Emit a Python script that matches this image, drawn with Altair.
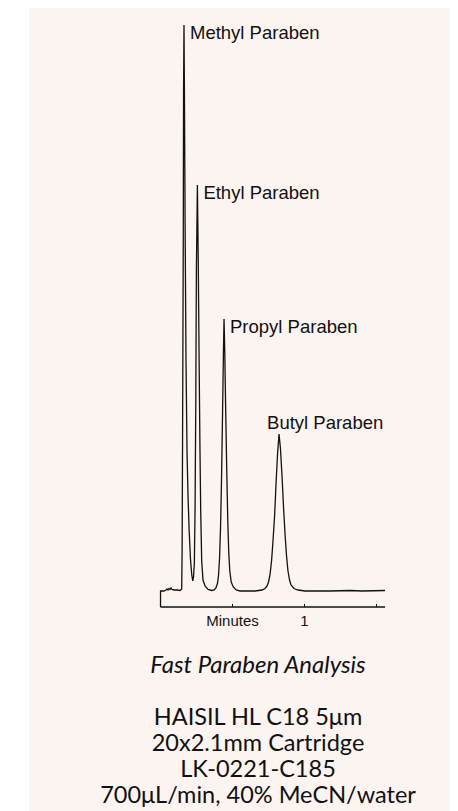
import altair as alt
import pandas as pd

# ---- chromatogram trace (time in minutes, detector signal in arbitrary units) ----
times = [0.000, 0.000, 0.003, 0.024, 0.038, 0.045, 0.052, 0.059, 0.066, 0.073, 0.080, 0.094, 0.115, 0.135, 0.147,
         0.150, 0.153, 0.158, 0.160, 0.163, 0.166, 0.171, 0.177, 0.184, 0.191, 0.199, 0.208, 0.217, 0.224,
         0.229, 0.235, 0.240, 0.245, 0.249, 0.256, 0.262, 0.268, 0.274, 0.279, 0.286, 0.295, 0.309, 0.330, 0.356,
         0.372, 0.385, 0.396, 0.403, 0.410, 0.417, 0.424, 0.431, 0.437, 0.441, 0.446, 0.452, 0.460, 0.467, 0.474,
         0.481, 0.491, 0.505, 0.526, 0.552, 0.656, 0.705,
         0.726, 0.740, 0.750, 0.760, 0.771, 0.781, 0.792, 0.802, 0.813, 0.823, 0.833, 0.844, 0.854, 0.865, 0.875,
         0.885, 0.896, 0.906, 0.927, 0.955, 1.003, 1.177, 1.316, 1.400, 1.559]
signal = [-16, 0, 0, 0, 1, 2, 1, 2.5, 1.5, 3, 1.5, 1, 1, 0.5, 2,
          40, 150, 350, 500, 566, 500, 360, 230, 140, 95, 60, 32, 16, 10,
          14, 28, 85, 190, 320, 406, 330, 230, 140, 80, 30, 11, 5, 1.5, 0.5,
          1, 3, 8, 16, 33, 65, 115, 180, 240, 272, 240, 185, 120, 70, 38,
          20, 9, 4, 1, 0, 0, 1,
          2.5, 5, 9, 16, 30, 50, 75, 107, 138, 157, 142, 114, 84, 56, 35,
          20, 11, 6, 2.5, 1, 0, 0, 0.5, 0, 0.5]

peak_names = ["Methyl Paraben", "Ethyl Paraben", "Propyl Paraben"]
peak_times = [0.163, 0.256, 0.441]
peak_heights = [566, 406, 272]
last_peak_name = ["Butyl Paraben"]
last_peak_time = [0.823]
last_peak_height = [157]

tick_values = [0.5, 1.0, 1.5]
tick_labels = ["Minutes", "1", ""]
axis_range = [0.0, 1.559]
axis_level = -16

title_text = "Fast Paraben Analysis"
caption_lines = ["HAISIL HL C18 5μm", "20x2.1mm Cartridge", "LK-0221-C185", "700μL/min, 40% MeCN/water"]

W, H = 442, 803
PINK = "#fcf4f1"

xs = alt.Scale(domain=[-1.059, 2.010], nice=False, zero=False)
ys = alt.Scale(domain=[-220, 583], nice=False, zero=False)

trace = pd.DataFrame({"t": times, "s": signal, "i": list(range(len(times)))})
peaks = pd.DataFrame({"name": peak_names, "t": peak_times, "s": peak_heights})
peak_last = pd.DataFrame({"name": last_peak_name, "t": last_peak_time, "s": last_peak_height})
ticks = pd.DataFrame({"t": tick_values, "label": tick_labels, "s": [axis_level] * 3, "s2": [axis_level + 3] * 3})
axis_df = pd.DataFrame({"t0": [axis_range[0]], "t1": [axis_range[1]], "s": [axis_level]})
one = pd.DataFrame({"a": [0]})

bg = alt.Chart(one).mark_rect(color=PINK).encode(
    x=alt.value(21), x2=alt.value(W), y=alt.value(0), y2=alt.value(H))

line = alt.Chart(trace).mark_line(color="#111111", strokeWidth=1.3).encode(
    x=alt.X("t:Q", scale=xs, axis=None),
    y=alt.Y("s:Q", scale=ys, axis=None),
    order="i:Q")

axis_line = alt.Chart(axis_df).mark_rule(color="#111111", strokeWidth=1.3).encode(
    x=alt.X("t0:Q", scale=xs, axis=None), x2="t1:Q",
    y=alt.Y("s:Q", scale=ys, axis=None))

tick_marks = alt.Chart(ticks).mark_rule(color="#111111", strokeWidth=1).encode(
    x=alt.X("t:Q", scale=xs, axis=None),
    y=alt.Y("s:Q", scale=ys, axis=None), y2="s2:Q")

tick_text = alt.Chart(ticks).mark_text(font="Liberation Sans", fontSize=15, color="#111111",
                                       baseline="alphabetic", align="center").encode(
    x=alt.X("t:Q", scale=xs, axis=None), y=alt.value(618), text="label:N")

peak_text = alt.Chart(peaks).mark_text(font="Liberation Sans", fontSize=18.5, color="#111111",
                                       align="left", baseline="alphabetic", dx=6, dy=14).encode(
    x=alt.X("t:Q", scale=xs, axis=None), y=alt.Y("s:Q", scale=ys, axis=None), text="name:N")

peak_text2 = alt.Chart(peak_last).mark_text(font="Liberation Sans", fontSize=18.5, color="#111111",
                                            align="left", baseline="alphabetic", dx=-12, dy=-5).encode(
    x=alt.X("t:Q", scale=xs, axis=None), y=alt.Y("s:Q", scale=ys, axis=None), text="name:N")

title = alt.Chart(one).mark_text(font="Lato", fontSize=24, fontStyle="italic", color="#111111",
                                 align="center", baseline="alphabetic").encode(
    x=alt.value(250), y=alt.value(665), text=alt.value(title_text))

caption_layers = []
for k, txt in enumerate(caption_lines):
    caption_layers.append(
        alt.Chart(one).mark_text(font="Lato", fontSize=23.5, color="#111111", align="center",
                                 baseline="alphabetic").encode(
            x=alt.value(250), y=alt.value(717 + 26 * k), text=alt.value(txt)))

chart = alt.layer(bg, line, axis_line, tick_marks, tick_text, peak_text, peak_text2, title,
                  *caption_layers).properties(
    width=W, height=H, padding=0, autosize=alt.AutoSizeParams(type="none"), background="white"
).configure_view(stroke=None)

chart.save("out.html", embed_options={"renderer": "svg", "actions": False})
